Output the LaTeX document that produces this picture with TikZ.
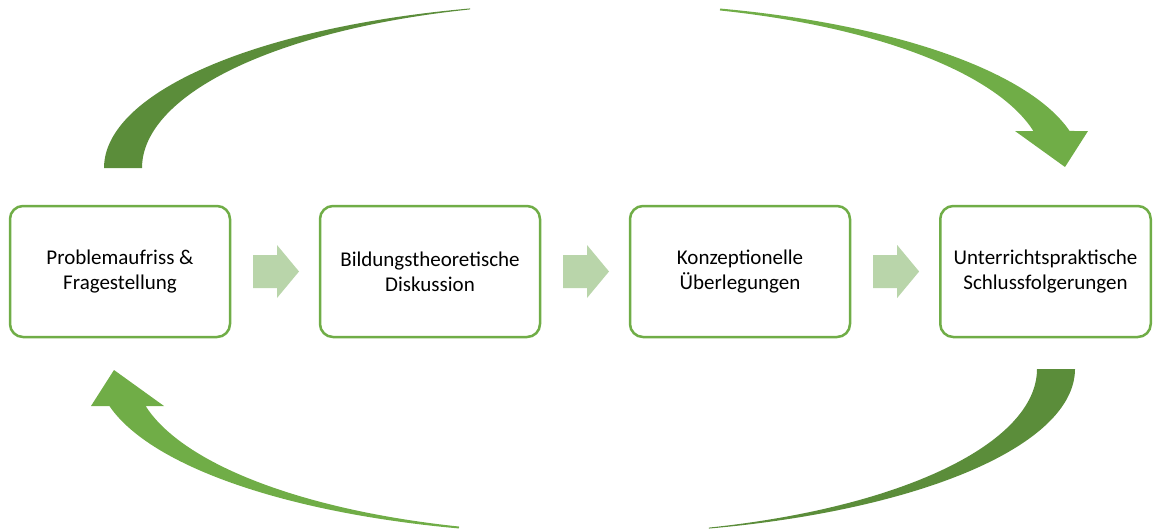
\documentclass[tikz,border=0pt]{standalone}
\usepackage{fontspec}
\setmainfont{Carlito}
\usetikzlibrary{calc}
\definecolor{boxgreen}{HTML}{70AD47}
\definecolor{darkgreen}{HTML}{5B8D3A}
\definecolor{palegreen}{HTML}{B9D5AA}
\tikzset{
  stepbox/.style={draw=boxgreen, line width=2.5pt, rounded corners=13pt, fill=white,
    minimum width=220pt, minimum height=131pt, align=center, inner sep=0pt,
    font=\fontsize{21}{25}\selectfont},
  blockarr/.style={fill=palegreen, draw=none},
  backband/.style={fill=darkgreen, draw=none},
  frontband/.style={fill=boxgreen, draw=none}
}
\newcommand\blockarrowat[1]{%
  \fill[blockarr, shift={(#1)}] (-22,-16.5) -- (2,-16.5) -- (2,-26.5) -- (24,0)
    -- (2,26.5) -- (2,16.5) -- (-22,16.5) -- cycle;}
\newcommand\cyclepair{%
  % dark back band (left)
  \fill[backband]
    plot[domain=0:75.25, samples=90] ({595+491*cos(180-\x)},{168-165*sin(180-\x)})
    -- plot[domain=106:180, samples=90] ({595+453*cos(\x)},{168-165*sin(\x)}) -- cycle;
  % light front band with arrow head (right)
  \fill[frontband]
    plot[domain=0:62.14, samples=90] ({595+487*cos(75.1-\x)},{168-165*sin(75.1-\x)})
    -- (1088,131) -- (1065,167) -- (1015,131) -- (1033.4,131)
    -- plot[domain=13.04:73.9, samples=90] ({595+450*cos(\x)},{168-164*sin(\x)}) -- cycle;}
\begin{document}
\begin{tikzpicture}[x=1pt, y=-1pt]
\useasboundingbox (0,0) rectangle (1153,530);

\node[stepbox] (b1) at (120,271.5) {Problemaufriss \&\\Fragestellung};
\node[stepbox] (b2) at (430,271.5) {Bildungstheoretische\\Diskussion};
\node[stepbox] (b3) at (740,271.5) {Konzeptionelle\\Überlegungen};
\node[stepbox, minimum width=210.5pt] (b4) at (1045.5,271.5) {Unterrichtspraktische\\Schlussfolgerungen};

\coordinate (m1) at ($(b1.east)!0.5!(b2.west)$);
\coordinate (m2) at ($(b2.east)!0.5!(b3.west)$);
\coordinate (m3) at ($(b3.east)!0.5!(b4.west)$);
\blockarrowat{m1}
\blockarrowat{m2}
\blockarrowat{m3}

\cyclepair
\begin{scope}[rotate around={180:(589.5,268.5)}]
\cyclepair
\end{scope}
\end{tikzpicture}
\end{document}
